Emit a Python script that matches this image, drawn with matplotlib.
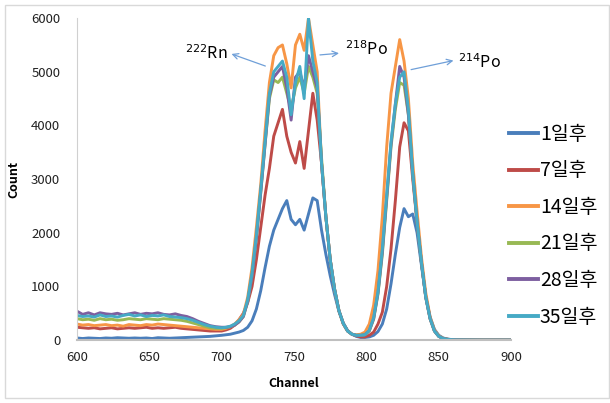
import numpy as np
import matplotlib
matplotlib.use("Agg")
import matplotlib.pyplot as plt
from matplotlib.patches import Rectangle

plt.rcParams['font.family'] = ['Noto Sans CJK KR', 'DejaVu Sans']

# channels: coarse on the flat part, finer across the peaks
channel = np.concatenate([np.arange(600, 700, 4), np.arange(700, 863, 3), [870, 880, 890, 900]])

labels = ['1일후', '7일후', '14일후', '21일후', '28일후', '35일후']
colors = ['#4a7ebb', '#be4b48', '#f79646', '#98b954', '#7d5fa0', '#46aac5']

day1 = [40, 30, 40, 35, 30, 40, 35, 45, 40, 35, 40, 35, 40, 30, 45, 40, 35, 40, 45, 50, 55, 60, 65, 70, 80,
        90, 100, 110, 130, 150, 180, 240, 360, 580, 920, 1350, 1750, 2050, 2250, 2450, 2600, 2250, 2150, 2250,
        2050, 2350, 2650, 2600, 2050, 1600, 1200, 850, 540, 320, 180, 110, 70, 50, 50, 60, 90, 160, 300, 580,
        1050, 1600, 2100, 2450, 2300, 2350, 2000, 1400, 820, 430, 200, 90, 40, 20, 10, 5,
        2, 0, 0, 0]
day7 = [240, 230, 220, 230, 210, 220, 230, 210, 220, 230, 220, 230, 240, 220, 230, 220, 230, 240, 220, 210,
        200, 190, 180, 170, 170,
        170, 190, 220, 280, 380, 500, 700, 1000, 1500, 2100, 2700, 3200, 3800, 4050, 4300, 3800, 3500, 3300,
        3700, 3200, 3900, 4600, 4100, 3300, 2300, 1500, 950, 550, 310, 170, 110, 80, 60, 60, 90, 150, 300, 520,
        1000, 1700, 2600, 3600, 4050, 3900, 3000, 2200, 1450, 800, 400, 170, 70, 30, 15, 8, 4,
        2, 0, 0, 0]
day14 = [300, 280, 290, 270, 280, 290, 270, 280, 260, 290, 280, 270, 290, 280, 300, 290, 280, 270, 260, 250,
         240, 230, 220, 210, 200,
         200, 220, 250, 300, 380, 480, 800, 1350, 2100, 2900, 3900, 4800, 5300, 5450, 5500, 5150, 4700, 5500,
         5700, 5400, 6000, 5500, 5000, 3300, 2300, 1500, 950, 550, 300, 170, 110, 100, 110, 150, 300, 650, 1300,
         2300, 3600, 4600, 5100, 5600, 5200, 4500, 3300, 2400, 1550, 880, 430, 190, 80, 35, 15, 8, 4,
         2, 0, 0, 0]
day21 = [400, 380, 390, 370, 400, 380, 390, 370, 380, 400, 390, 380, 400, 390, 380, 400, 390, 380, 370, 350,
         320, 290, 260, 230, 220,
         220, 230, 250, 280, 340, 440, 720, 1200, 1900, 2750, 3650, 4500, 4850, 4800, 4900, 4600, 4300, 4700,
         4900, 4600, 5100, 4900, 4600, 3400, 2300, 1500, 950, 550, 310, 170, 110, 90, 90, 100, 170, 390, 860,
         1600, 2600, 3600, 4300, 4800, 4750, 4200, 3100, 2200, 1450, 800, 400, 170, 70, 30, 15, 8, 4,
         2, 0, 0, 0]
day28 = [540, 480, 510, 470, 510, 490, 480, 500, 470, 490, 510, 480, 500, 490, 510, 480, 470, 490, 460, 440,
         400, 350, 310, 270, 250,
         240, 240, 250, 280, 340, 440, 720, 1200, 1900, 2750, 3650, 4550, 4900, 5000, 5100, 4700, 4100, 4900,
         5000, 4700, 5300, 5000, 4700, 3300, 2300, 1500, 950, 550, 310, 170, 110, 90, 90, 100, 180, 400, 880,
         1650, 2650, 3650, 4400, 5100, 4900, 4200, 3100, 2200, 1450, 800, 400, 170, 70, 30, 15, 8, 4,
         2, 0, 0, 0]
day35 = [460, 440, 450, 430, 470, 440, 450, 430, 460, 480, 450, 470, 440, 460, 450, 470, 440, 430, 420, 400,
         370, 330, 290, 260, 240,
         230, 240, 260, 300, 360, 460, 750, 1250, 1950, 2800, 3700, 4600, 5000, 5100, 5200, 4900, 4200, 4800,
         5100, 4500, 6000, 5200, 4800, 3300, 2300, 1500, 950, 550, 310, 170, 110, 90, 90, 100, 180, 420, 900,
         1700, 2700, 3700, 4400, 4900, 5000, 4300, 3100, 2200, 1450, 800, 400, 170, 70, 30, 15, 8, 4,
         2, 0, 0, 0]

series = [day1, day7, day14, day21, day28, day35]

fig = plt.figure(figsize=(6.1, 4.03), dpi=100)
ax = fig.add_axes([0.126, 0.156, 0.712, 0.799])

for vals, lab, col in zip(series, labels, colors):
    ax.plot(channel, vals, color=col, lw=2.1, label=lab)

ax.set_xlim(600, 900)
ax.set_ylim(0, 6000)
ax.set_xticks(range(600, 901, 50))
ax.set_yticks(range(0, 6001, 1000))
ax.tick_params(length=0, labelsize=9.5, colors='#222222')
ax.tick_params(axis='x', pad=8)
ax.tick_params(axis='y', pad=12)
for s in ['top', 'right']:
    ax.spines[s].set_visible(False)
ax.spines['left'].set_color('#d0d0d0')
ax.spines['bottom'].set_color('#bfbfbf')
ax.spines['bottom'].set_linewidth(1.5)

ax.set_xlabel('Channel', fontsize=9, fontweight='bold', labelpad=9)
ax.set_ylabel('Count', fontsize=9, fontweight='bold', labelpad=8)

arrow = dict(arrowstyle='->', color='#6f9fd8', lw=0.9)
ax.annotate('', xy=(705, 5350), xytext=(732, 5090), arrowprops=arrow)
ax.annotate('', xy=(783, 5350), xytext=(766, 5310), arrowprops=arrow)
ax.annotate('', xy=(862, 5220), xytext=(829, 5030), arrowprops=arrow)
ax.text(704, 5330, r'$^{222}$Rn', fontsize=11.5, ha='right', va='center')
ax.text(785, 5420, r'$^{218}$Po', fontsize=11.5, ha='left', va='center')
ax.text(863, 5170, r'$^{214}$Po', fontsize=11.5, ha='left', va='center')

ax.legend(loc='center left', bbox_to_anchor=(0.834, 0.44), bbox_transform=fig.transFigure,
          frameon=False, fontsize=14, handlelength=1.5, handletextpad=0.1,
          labelspacing=0.8, borderpad=0, borderaxespad=0)
for ln in ax.get_legend().get_lines():
    ln.set_linewidth(2.8)

fig.patches.append(Rectangle((0.008, 0.012), 0.99, 0.975, transform=fig.transFigure,
                             fill=False, edgecolor='#d9d9d9', lw=1))

fig.savefig('out.png', dpi=100, facecolor='white')
